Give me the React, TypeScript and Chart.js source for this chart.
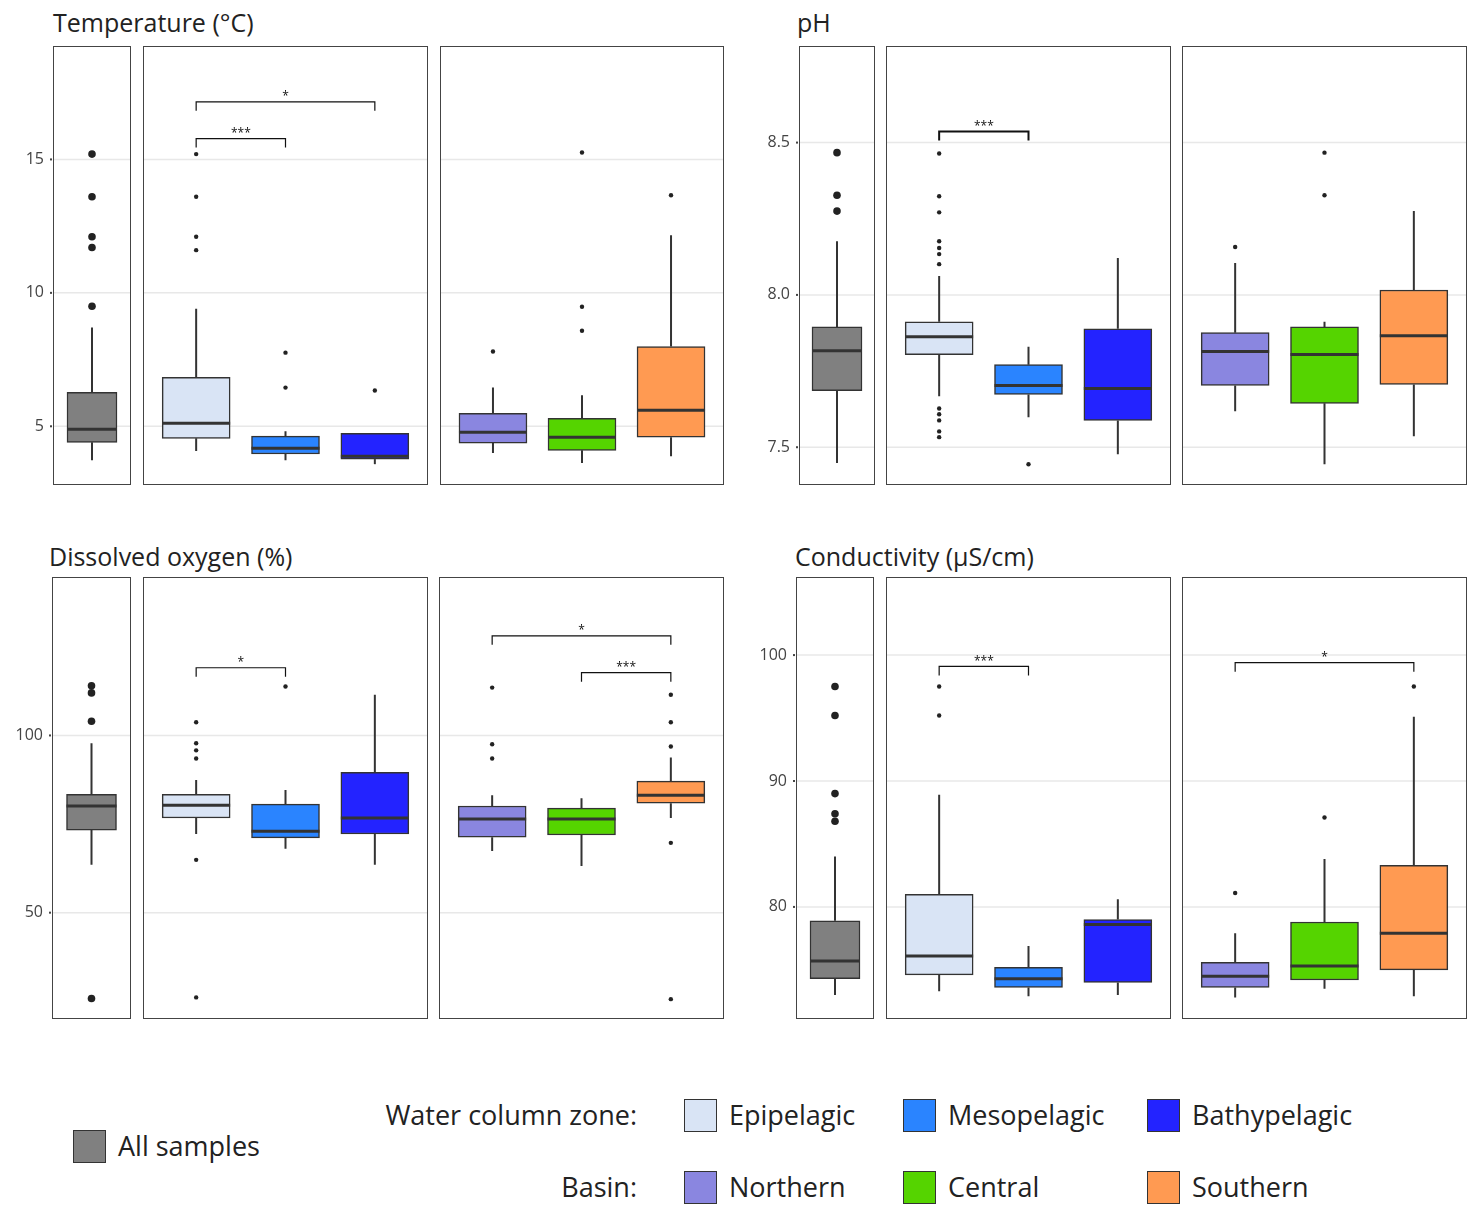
import React, { useEffect, useRef } from "react";
import { Chart, registerables } from "chart.js";

Chart.register(...registerables);

// group order: All, Epipelagic, Mesopelagic, Bathypelagic, Northern, Central, Southern
const groups = ["All samples", "Epipelagic", "Mesopelagic", "Bathypelagic", "Northern", "Central", "Southern"];
const groupColors = ["#808080", "#d9e4f5", "#2a84ff", "#2323ff", "#8a86e0", "#55d400", "#ff9a52"];

const tempQ1 = [4.4, 4.55, 3.96, 3.77, 4.37, 4.1, 4.59];
const tempQ3 = [6.27, 6.83, 4.63, 4.74, 5.49, 5.3, 7.99];
const tempMed = [4.89, 5.11, 4.18, 3.88, 4.78, 4.59, 5.6];
const tempLo = [3.73, 4.07, 3.73, 3.58, 4.0, 3.62, 3.88];
const tempHi = [8.7, 9.4, 4.81, 4.74, 6.45, 6.16, 12.16];
const tempOut = [[15.2, 13.6, 12.1, 11.7, 9.5], [15.2, 13.6, 12.1, 11.6], [7.76, 6.45], [6.34], [7.8], [15.26, 9.48, 8.58], [13.66]];
const tempTicks = [5, 10, 15];

const phQ1 = [7.686, 7.804, 7.673, 7.588, 7.703, 7.644, 7.706];
const phQ3 = [7.895, 7.912, 7.771, 7.889, 7.876, 7.895, 8.016];
const phMed = [7.817, 7.863, 7.703, 7.693, 7.814, 7.804, 7.866];
const phLo = [7.448, 7.667, 7.598, 7.477, 7.618, 7.444, 7.536];
const phHi = [8.176, 8.062, 7.83, 8.121, 8.105, 7.912, 8.275];
const phOut = [[8.467, 8.327, 8.275], [8.464, 8.324, 8.271, 8.176, 8.154, 8.134, 8.101, 7.627, 7.608, 7.588, 7.552, 7.533], [7.444], [], [8.157], [8.467, 8.327], []];
const phTicks = [7.5, 8.0, 8.5];

const doQ1 = [73.3, 76.7, 71.1, 72.2, 71.3, 71.9, 80.9];
const doQ3 = [83.4, 83.4, 80.6, 89.6, 80.1, 79.5, 87.1];
const doMed = [80.1, 80.3, 73.0, 76.7, 76.4, 76.4, 83.1];
const doLo = [63.5, 72.2, 68, 63.5, 67.4, 63.2, 76.7];
const doHi = [97.8, 87.4, 84.6, 111.5, 83.1, 82.3, 93.8];
const doOut = [[114, 112, 104, 25.8], [103.7, 97.8, 95.8, 93.5, 64.9, 26.1], [113.8], [], [113.5, 97.5, 93.5], [], [111.5, 103.7, 96.9, 69.7, 25.6]];
const doTicks = [50, 100];

const condQ1 = [74.3, 74.6, 73.6, 74.0, 73.6, 74.2, 75.0];
const condQ3 = [78.9, 81.0, 75.2, 79.0, 75.6, 78.8, 83.3];
const condMed = [75.7, 76.1, 74.3, 78.6, 74.5, 75.3, 77.9];
const condLo = [73.0, 73.3, 72.9, 73.0, 72.8, 73.5, 72.9];
const condHi = [84.0, 88.9, 76.9, 80.6, 77.9, 83.8, 95.1];
const condOut = [[97.5, 95.2, 89.0, 87.4, 86.8], [97.5, 95.2], [], [], [81.1], [87.1], [97.5]];
const condTicks = [80, 90, 100];

type Stats = { q1: number[]; q3: number[]; med: number[]; lo: number[]; hi: number[]; out: number[][] };
type Bracket = { from: number; to: number; y: number; label: string; bold?: boolean };

const FONT = "'Open Sans', sans-serif";

function SubPanel(props: {
  rect: [number, number, number, number];
  idx: number[];
  stats: Stats;
  yMin: number;
  yMax: number;
  ticks: number[];
  showTicks: boolean;
  brackets?: Bracket[];
}) {
  const ref = useRef<HTMLCanvasElement>(null);
  const padL = props.showTicks ? 50 : 3;
  const pad = 3;
  const [x, y, w, h] = props.rect;
  const single = props.idx.length === 1;

  useEffect(() => {
    const ctx = ref.current?.getContext("2d");
    if (!ctx) return;
    const s = props.stats;
    const xs = props.idx.map((_, i) => (single ? 1 : i + 1));
    const barW = single ? 50 : 68;
    const dotR = single ? 3.8 : 2.2;

    const plugin = {
      id: "boxextras",
      beforeDatasetsDraw(chart: any) {
        const c = chart.ctx;
        const a = chart.chartArea;
        const ys = chart.scales.y;
        const xsc = chart.scales.x;
        c.save();
        c.strokeStyle = "#e8e8e8";
        c.lineWidth = 1.5;
        props.ticks.forEach((t) => {
          const py = ys.getPixelForValue(t);
          c.beginPath();
          c.moveTo(a.left, py);
          c.lineTo(a.right, py);
          c.stroke();
        });
        c.strokeStyle = "#333";
        c.lineWidth = 2;
        props.idx.forEach((g, i) => {
          const px = xsc.getPixelForValue(xs[i]);
          c.beginPath();
          c.moveTo(px, ys.getPixelForValue(s.hi[g]));
          c.lineTo(px, ys.getPixelForValue(s.q3[g]));
          c.moveTo(px, ys.getPixelForValue(s.q1[g]));
          c.lineTo(px, ys.getPixelForValue(s.lo[g]));
          c.stroke();
        });
        c.restore();
      },
      afterDatasetsDraw(chart: any) {
        const c = chart.ctx;
        const a = chart.chartArea;
        const ys = chart.scales.y;
        const xsc = chart.scales.x;
        c.save();
        c.strokeStyle = "#333";
        c.lineWidth = 3;
        props.idx.forEach((g, i) => {
          const px = xsc.getPixelForValue(xs[i]);
          const py = ys.getPixelForValue(s.med[g]);
          c.beginPath();
          c.moveTo(px - barW / 2, py);
          c.lineTo(px + barW / 2, py);
          c.stroke();
        });
        c.lineWidth = 1;
        c.strokeStyle = "#444";
        c.strokeRect(a.left + 0.5, a.top + 0.5, a.right - a.left - 1, a.bottom - a.top - 1);
        (props.brackets || []).forEach((b) => {
          const x1 = xsc.getPixelForValue(b.from);
          const x2 = xsc.getPixelForValue(b.to);
          const py = ys.getPixelForValue(b.y);
          c.lineWidth = b.bold ? 2 : 1.2;
          c.strokeStyle = "#111";
          c.beginPath();
          c.moveTo(x1, py + 9);
          c.lineTo(x1, py);
          c.lineTo(x2, py);
          c.lineTo(x2, py + 9);
          c.stroke();
          c.fillStyle = "#111";
          c.font = "12px " + FONT;
          c.textAlign = "center";
          c.textBaseline = "bottom";
          c.fillText(b.label, (x1 + x2) / 2, py + 1);
        });
        if (props.showTicks) {
          c.fillStyle = "#444";
          c.font = "16px " + FONT;
          c.textAlign = "right";
          c.textBaseline = "middle";
          props.ticks.forEach((t) => {
            const py = ys.getPixelForValue(t);
            c.fillText(t % 1 === 0 && t < 10 && props.yMax < 10 ? t.toFixed(1) : String(t), a.left - 9, py);
            c.fillRect(a.left - 3, py - 1, 2, 2);
          });
        }
        c.restore();
      },
    };

    const outliers: { x: number; y: number }[] = [];
    props.idx.forEach((g, i) => s.out[g].forEach((v) => outliers.push({ x: xs[i], y: v })));

    const chart = new Chart(ctx, {
      type: "bar",
      data: {
        datasets: [
          {
            type: "bar",
            data: props.idx.map((g, i) => ({ x: xs[i], y: [s.q1[g], s.q3[g]] })) as any,
            backgroundColor: props.idx.map((g) => groupColors[g]),
            borderColor: "#333",
            borderWidth: 1.5,
            borderSkipped: false,
            barThickness: barW,
          },
          {
            type: "scatter",
            data: outliers,
            pointRadius: dotR,
            pointBackgroundColor: "#222",
            pointBorderWidth: 0,
          } as any,
        ],
      },
      options: {
        animation: false,
        responsive: false,
        maintainAspectRatio: false,
        layout: { padding: { left: padL, right: pad, top: pad, bottom: pad } },
        plugins: { legend: { display: false }, tooltip: { enabled: false } },
        scales: {
          x: single
            ? { type: "linear", min: 0, max: 2, offset: false, display: false }
            : { type: "linear", min: 0.405, max: 3.595, offset: false, display: false },
          y: { type: "linear", min: props.yMin, max: props.yMax, display: false },
        },
      },
      plugins: [plugin],
    });
    return () => chart.destroy();
  }, []);

  return (
    <canvas
      ref={ref}
      width={w + padL + pad}
      height={h + 2 * pad}
      style={{ position: "absolute", left: x - padL, top: y - pad, width: w + padL + pad, height: h + 2 * pad }}
    />
  );
}

function Panel(props: {
  title: string;
  titleX: number;
  titleY: number;
  xs: [number, number, number];
  widths: [number, number, number];
  top: number;
  height: number;
  stats: Stats;
  yMin: number;
  yMax: number;
  ticks: number[];
  br2?: Bracket[];
  br3?: Bracket[];
}) {
  const common = { stats: props.stats, yMin: props.yMin, yMax: props.yMax, ticks: props.ticks };
  return (
    <>
      <div style={{ position: "absolute", left: props.titleX, top: props.titleY, fontFamily: FONT, fontSize: 25, color: "#222", whiteSpace: "nowrap" }}>
        {props.title}
      </div>
      <SubPanel {...common} rect={[props.xs[0], props.top, props.widths[0], props.height]} idx={[0]} showTicks />
      <SubPanel {...common} rect={[props.xs[1], props.top, props.widths[1], props.height]} idx={[1, 2, 3]} showTicks={false} brackets={props.br2} />
      <SubPanel {...common} rect={[props.xs[2], props.top, props.widths[2], props.height]} idx={[4, 5, 6]} showTicks={false} brackets={props.br3} />
    </>
  );
}

function Swatch(props: { x: number; y: number; color: string; label: string }) {
  return (
    <>
      <div style={{ position: "absolute", left: props.x, top: props.y, width: 33, height: 33, background: props.color, border: "1.5px solid #333", boxSizing: "border-box" }} />
      <div style={{ position: "absolute", left: props.x + 45, top: props.y - 3, fontFamily: FONT, fontSize: 27, color: "#222", whiteSpace: "nowrap" }}>{props.label}</div>
    </>
  );
}

export default function App() {
  const mk = (q1: number[], q3: number[], med: number[], lo: number[], hi: number[], out: number[][]): Stats => ({ q1, q3, med, lo, hi, out });
  return (
    <div style={{ position: "absolute", left: 0, top: 0, width: 1483, height: 1206, background: "#fff", overflow: "hidden" }}>
      <Panel
        title="Temperature (°C)" titleX={53} titleY={5}
        xs={[53, 142, 439]} widths={[79, 287, 286]} top={45} height={441}
        stats={mk(tempQ1, tempQ3, tempMed, tempLo, tempHi, tempOut)} yMin={2.8} yMax={19.25} ticks={tempTicks}
        br2={[{ from: 1, to: 2, y: 15.78, label: "***" }, { from: 1, to: 3, y: 17.16, label: "*" }]}
      />
      <Panel
        title="pH" titleX={797} titleY={5}
        xs={[799, 885, 1181]} widths={[77, 287, 287]} top={45} height={441}
        stats={mk(phQ1, phQ3, phMed, phLo, phHi, phOut)} yMin={7.376} yMax={8.817} ticks={phTicks}
        br2={[{ from: 1, to: 2, y: 8.536, label: "***", bold: true }]}
      />
      <Panel
        title="Dissolved oxygen (%)" titleX={49} titleY={539}
        xs={[52, 142, 438]} widths={[80, 287, 287]} top={576} height={444}
        stats={mk(doQ1, doQ3, doMed, doLo, doHi, doOut)} yMin={20} yMax={144.7} ticks={doTicks}
        br2={[{ from: 1, to: 2, y: 119.1, label: "*" }]}
        br3={[{ from: 1, to: 3, y: 128.1, label: "*" }, { from: 2, to: 3, y: 117.7, label: "***" }]}
      />
      <Panel
        title="Conductivity (µS/cm)" titleX={795} titleY={539}
        xs={[796, 885, 1181]} widths={[79, 287, 287]} top={576} height={444}
        stats={mk(condQ1, condQ3, condMed, condLo, condHi, condOut)} yMin={71.1} yMax={106.2} ticks={condTicks}
        br2={[{ from: 1, to: 2, y: 99.1, label: "***" }]}
        br3={[{ from: 1, to: 3, y: 99.4, label: "*" }]}
      />
      <Swatch x={73} y={1130} color={groupColors[0]} label={groups[0]} />
      <div style={{ position: "absolute", right: 1483 - 637, top: 1096, fontFamily: FONT, fontSize: 27, color: "#222", whiteSpace: "nowrap" }}>Water column zone:</div>
      <div style={{ position: "absolute", right: 1483 - 637, top: 1168, fontFamily: FONT, fontSize: 27, color: "#222", whiteSpace: "nowrap" }}>Basin:</div>
      <Swatch x={684} y={1099} color={groupColors[1]} label={groups[1]} />
      <Swatch x={903} y={1099} color={groupColors[2]} label={groups[2]} />
      <Swatch x={1147} y={1099} color={groupColors[3]} label={groups[3]} />
      <Swatch x={684} y={1171} color={groupColors[4]} label={groups[4]} />
      <Swatch x={903} y={1171} color={groupColors[5]} label={groups[5]} />
      <Swatch x={1147} y={1171} color={groupColors[6]} label={groups[6]} />
    </div>
  );
}
